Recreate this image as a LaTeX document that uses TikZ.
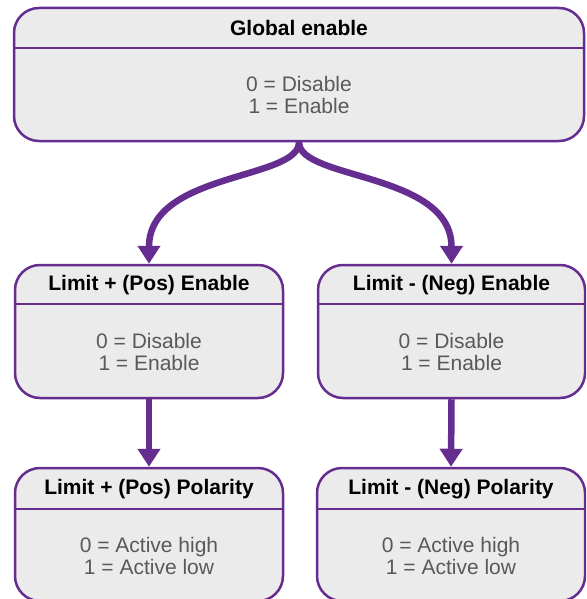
\documentclass[tikz,border=0pt]{standalone}
\usepackage{fontspec}
\setmainfont{Liberation Sans}
\usetikzlibrary{arrows.meta}
\definecolor{pur}{HTML}{662D91}
\definecolor{boxfill}{HTML}{EBEBEB}
\definecolor{txt}{HTML}{595959}
\begin{document}
\begin{tikzpicture}[x=1pt,y=-1pt,
 box/.style={draw=pur, line width=2.5pt, fill=boxfill, rounded corners=25pt, inner sep=0pt},
 boxtitle/.style={font=\bfseries\fontsize{21}{23}\selectfont, text=black, inner sep=0pt},
 boxbody/.style={font=\fontsize{21}{22}\selectfont, text=txt, align=center, inner sep=0pt},
 divider/.style={draw=pur, line width=2.5pt},
 arr/.style={draw=pur, line width=6.5pt, -{Triangle[width=22pt,length=18pt]}}]
\useasboundingbox (0,0) rectangle (586,599);
\clip (0,0) rectangle (586,599);
% Global box
\node[box, minimum width=570pt, minimum height=133pt] (g) at (299,74.5) {};
\draw[divider] (g.west |- 0,48) -- (g.east |- 0,48);
\node[boxtitle] (gt) at (299,28) {Global enable};
\node[boxbody] (gb) at (299,94.5) {0 = Disable\\1 = Enable};
% Pos enable
\node[box, minimum width=268pt, minimum height=133pt] (pl) at (149,331.5) {};
\draw[divider] (pl.west |- 0,304) -- (pl.east |- 0,304);
\node[boxtitle] (plt) at (149,285) {Limit + (Pos) Enable};
\node[boxbody] (plb) at (149,352) {0 = Disable\\1 = Enable};
% Neg enable
\node[box, minimum width=267pt, minimum height=133pt] (nl) at (451.5,331.5) {};
\draw[divider] (nl.west |- 0,304) -- (nl.east |- 0,304);
\node[boxtitle] (nlt) at (451.5,285) {Limit - (Neg) Enable};
\node[boxbody] (nlb) at (451.5,352) {0 = Disable\\1 = Enable};
% Pos polarity
\node[box, minimum width=268pt, minimum height=133pt] (pp) at (149,534.5) {};
\draw[divider] (pp.west |- 0,509) -- (pp.east |- 0,509);
\node[boxtitle] (ppt) at (149,489) {Limit + (Pos) Polarity};
\node[boxbody] (ppb) at (149,555.5) {0 = Active high\\1 = Active low};
% Neg polarity
\node[box, minimum width=268pt, minimum height=133pt] (np) at (451,534.5) {};
\draw[divider] (np.west |- 0,509) -- (np.east |- 0,509);
\node[boxtitle] (npt) at (451,489) {Limit - (Neg) Polarity};
\node[boxbody] (npb) at (451,555.5) {0 = Active high\\1 = Active low};
% Arrows
\draw[arr] (g.south) .. controls (299,180) and (149,172) .. (pl.north);
\draw[arr] (g.south) .. controls (299,180) and (451.5,172) .. (nl.north);
\draw[arr] (pl.south) -- (pp.north);
\draw[arr] (nl.south) -- (np.north);
\end{tikzpicture}
\end{document}
